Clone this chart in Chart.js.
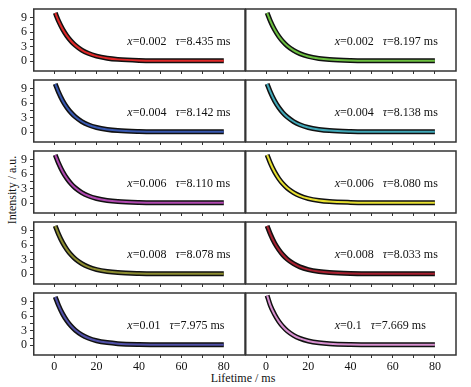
<!DOCTYPE html>
<html>
<head>
<meta charset="utf-8">
<script src="https://cdn.jsdelivr.net/npm/chart.js@4"></script>
<style>
  body { margin: 0; background: #fff; }
  #wrap { position: relative; width: 471px; height: 387px; overflow: hidden; font-family: "Liberation Serif", serif; }
  .panel { position: absolute; }
  .ytitle { position: absolute; left: 12px; top: 190px; transform: translate(-50%, -50%) rotate(-90deg); font-size: 12px; white-space: nowrap; color: #111; }
  .xtitle { position: absolute; left: 243px; top: 378px; transform: translate(-50%, -50%); font-size: 12px; white-space: nowrap; color: #111; }
</style>
</head>
<body>
<div id="wrap">
  <div class="ytitle">Intensity / a.u.</div>
  <div class="xtitle">Lifetime / ms</div>
</div>
<script>
// lifetime axis (ms), shared by all panels
const times = [0.5, 2, 4, 6, 8, 10, 13, 16, 20, 25, 30, 40, 50, 60, 70, 80];

// decay curves, one per panel (row by row, left then right)
const decay1 = [10.0, 8.37, 6.62, 5.24, 4.15, 3.29, 2.33, 1.66, 1.07, 0.64, 0.40, 0.19, 0.13, 0.11, 0.10, 0.10];
const decay2 = [10.0, 8.34, 6.55, 5.16, 4.06, 3.20, 2.25, 1.59, 1.01, 0.60, 0.37, 0.18, 0.12, 0.10, 0.10, 0.10];
const decay3 = [10.0, 8.33, 6.53, 5.13, 4.03, 3.18, 2.23, 1.57, 1.00, 0.59, 0.36, 0.18, 0.12, 0.10, 0.10, 0.10];
const decay4 = [10.0, 8.33, 6.53, 5.13, 4.03, 3.17, 2.23, 1.57, 0.99, 0.59, 0.36, 0.18, 0.12, 0.10, 0.10, 0.10];
const decay5 = [10.0, 8.33, 6.52, 5.12, 4.02, 3.16, 2.22, 1.56, 0.99, 0.58, 0.36, 0.18, 0.12, 0.10, 0.10, 0.10];
const decay6 = [10.0, 8.32, 6.51, 5.11, 4.01, 3.15, 2.21, 1.55, 0.98, 0.58, 0.35, 0.18, 0.12, 0.10, 0.10, 0.10];
const decay7 = [10.0, 8.32, 6.51, 5.11, 4.00, 3.15, 2.21, 1.55, 0.98, 0.57, 0.35, 0.18, 0.12, 0.10, 0.10, 0.10];
const decay8 = [10.0, 8.31, 6.49, 5.09, 3.98, 3.13, 2.19, 1.53, 0.97, 0.57, 0.35, 0.17, 0.12, 0.10, 0.10, 0.10];
const decay9 = [10.0, 8.30, 6.47, 5.06, 3.95, 3.10, 2.16, 1.51, 0.95, 0.56, 0.34, 0.17, 0.12, 0.10, 0.10, 0.10];
const decay10 = [10.3, 8.25, 6.39, 4.95, 3.84, 2.98, 2.05, 1.42, 0.89, 0.51, 0.31, 0.16, 0.12, 0.10, 0.10, 0.10];
const decays = [decay1, decay2, decay3, decay4, decay5, decay6, decay7, decay8, decay9, decay10];

const dopingLabels = ["0.002", "0.002", "0.004", "0.004", "0.006", "0.006", "0.008", "0.008", "0.01", "0.1"];
const tauLabels = ["8.435", "8.197", "8.142", "8.138", "8.110", "8.080", "8.078", "8.033", "7.975", "7.669"];
const fitColors = ["#e02828", "#6cc040", "#3858b0", "#40a8b8", "#b048b0",
                   "#e8e030", "#8c8c30", "#a82030", "#5050a8", "#d890d0"];

const yTicks = [0, 1.5, 3, 4.5, 6, 7.5, 9];
const xTicks = [0, 10, 20, 30, 40, 50, 60, 70, 80];

const rowTops = [9, 80, 151, 222, 293];
const rowH = 62;
const FONT = "Liberation Serif";

// frame around each plot area
const boxPlugin = {
  id: "box",
  afterDraw(chart) {
    const a = chart.chartArea, ctx = chart.ctx;
    ctx.save();
    ctx.strokeStyle = "#333";
    ctx.lineWidth = 1.5;
    ctx.strokeRect(a.left + 0.75, a.top, a.right - a.left - 0.75, a.bottom - a.top);
    ctx.restore();
  },
};

// "x=...  τ=... ms" annotation
const noteText = {
  id: "note",
  afterDatasetsDraw(chart, args, opts) {
    const ctx = chart.ctx;
    let px = chart.scales.x.getPixelForValue(opts.at);
    const py = chart.scales.y.getPixelForValue(4);
    const parts = [
      ["x", true], ["=" + opts.dop, false], [null, 9],
      ["\u03c4", true], ["=" + opts.tau + " ms", false],
    ];
    ctx.save();
    ctx.fillStyle = "#111";
    ctx.textBaseline = "middle";
    for (const [t, it] of parts) {
      if (t === null) { px += it; continue; }
      ctx.font = (it ? "italic " : "") + "12px " + FONT;
      ctx.fillText(t, px, py);
      px += ctx.measureText(t).width;
    }
    ctx.restore();
  },
};

const wrap = document.getElementById("wrap");

decays.forEach((vals, i) => {
  const row = Math.floor(i / 2), col = i % 2;
  const bottomRow = row === 4;
  const xh = bottomRow ? 24 : 6;
  const div = document.createElement("div");
  div.className = "panel";
  const w = col === 0 ? 247 : 214;
  const h = rowH + 6 + xh;
  div.style.left = (col === 0 ? 0 : 244) + "px";
  div.style.top = (rowTops[row] - 6) + "px";
  const canvas = document.createElement("canvas");
  canvas.width = w;
  canvas.height = h;
  div.appendChild(canvas);
  wrap.appendChild(div);

  const fitPts = times.map((t, k) => ({ x: t, y: vals[k] }));
  const dataPts = times.map((t, k) => ({ x: t, y: vals[k] }));

  new Chart(canvas, {
    type: "line",
    data: {
      datasets: [
        {
          data: fitPts,
          borderColor: fitColors[i],
          borderWidth: 2,
          pointRadius: 0,
          cubicInterpolationMode: "monotone",
          order: 0,
        },
        {
          data: dataPts,
          borderColor: "#111",
          borderWidth: 5,
          pointRadius: 0,
          cubicInterpolationMode: "monotone",
          order: 1,
        },
      ],
    },
    options: {
      responsive: false,
      animation: false,
      devicePixelRatio: 1,
      layout: { padding: { top: 6, right: 2, left: col === 0 ? 0 : 1, bottom: 0 } },
      plugins: {
        legend: { display: false },
        tooltip: { enabled: false },
        note: { at: col === 0 ? 34.5 : 32.5, dop: dopingLabels[i], tau: tauLabels[i] },
      },
      scales: {
        x: {
          type: "linear",
          min: -10,
          max: 90,
          afterBuildTicks: (s) => { s.ticks = xTicks.map((v) => ({ value: v })); },
          afterFit: (s) => {
            s.height = xh;
            s.paddingLeft = 0; s.paddingRight = 0; s.paddingTop = 0; s.paddingBottom = 0;
          },
          grid: { drawOnChartArea: false, drawTicks: true, tickLength: 3, color: "#333", lineWidth: 1 },
          border: { display: false },
          ticks: {
            display: bottomRow,
            autoSkip: false,
            maxRotation: 0,
            padding: 2,
            color: "#111",
            font: { family: FONT, size: 12 },
            callback: (v) => (v % 20 === 0 ? v : ""),
          },
        },
        y: {
          type: "linear",
          min: -2,
          max: 10.8,
          afterBuildTicks: (s) => { s.ticks = yTicks.map((v) => ({ value: v })); },
          afterFit: (s) => {
            s.width = col === 0 ? 33 : 0;
            s.paddingLeft = 0; s.paddingRight = 0; s.paddingTop = 0; s.paddingBottom = 0;
          },
          grid: {
            drawOnChartArea: false,
            drawTicks: col === 0,
            tickLength: 3,
            color: "#333",
            lineWidth: 1,
          },
          border: { display: false },
          ticks: {
            display: col === 0,
            autoSkip: false,
            padding: 3,
            color: "#111",
            font: { family: FONT, size: 12 },
            callback: (v) => (v % 3 === 0 ? v : ""),
          },
        },
      },
    },
    plugins: [boxPlugin, noteText],
  });
});
</script>
</body>
</html>
